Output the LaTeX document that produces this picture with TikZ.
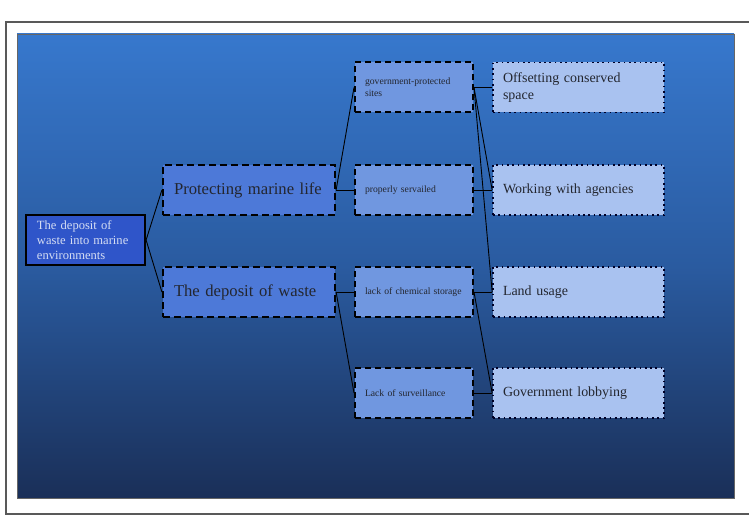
\documentclass[tikz,border=0pt]{standalone}
\usepackage{fontspec}
\setmainfont{Liberation Serif}
\definecolor{paneltop}{HTML}{3778CD}
\definecolor{panelmid}{HTML}{2A5BA0}
\definecolor{panelbot}{HTML}{1A2F58}
\definecolor{rootfill}{HTML}{2F55C9}
\definecolor{lvtwo}{HTML}{4D79D8}
\definecolor{lvthree}{HTML}{7097E0}
\definecolor{lvfour}{HTML}{A9C2F0}
\definecolor{darktext}{HTML}{23262F}
\definecolor{roottext}{HTML}{D5DDF3}
\begin{document}
\begin{tikzpicture}[x=1bp,y=-1bp,
  box/.style={rectangle,anchor=center,minimum height=50bp,inner ysep=0bp,align=left},
  rootbox/.style={box,draw=black,line width=2.2bp,fill=rootfill,text=roottext,
     minimum width=119bp,inner xsep=11bp,text width=97bp,font=\fontsize{12.6}{15}\selectfont},
  lvtwobox/.style={box,draw=black,line width=2.2bp,dash pattern=on 7bp off 4bp,fill=lvtwo,text=darktext,
     minimum width=172bp,inner xsep=8bp,text width=156bp,font=\fontsize{16.7}{20}\selectfont},
  lvthreebox/.style={box,draw=black,line width=2bp,dash pattern=on 6bp off 4bp,fill=lvthree,text=darktext,
     minimum width=118bp,inner xsep=10bp,text width=98bp,font=\fontsize{9.7}{12}\selectfont},
  lvfourbox/.style={box,draw=black!85!blue,line width=1.7bp,dash pattern=on 1.7bp off 3.6bp,fill=lvfour,text=darktext,
     minimum width=171bp,inner xsep=10bp,text width=151bp,font=\fontsize{14}{17}\selectfont},
  link/.style={draw=black,line width=0.9bp}]
\useasboundingbox (0,0) rectangle (749,528);
\fill[white] (0,0) rectangle (749,528);
% outer frame
\draw[gray!70!black,line width=1.4bp] (749,22) -- (6,22) -- (6,514) -- (749,514);
% gradient panel
\shade[top color=paneltop,bottom color=panelbot,middle color=panelmid] (17,34) rectangle (734,498);
\draw[black!60,line width=0.6bp] (17,34) rectangle (734,498);
% nodes
\node[rootbox] (root) at (85.5,240) {The deposit of\\waste into marine\\environments};
\node[lvtwobox] (prot) at (249,190) {\hspace*{3bp}Protecting marine life};
\node[lvtwobox] (depo) at (249,292) {\hspace*{3bp}The deposit of waste};
\node[lvthreebox] (gov) at (414,87.5) {government-protected\\sites};
\node[lvthreebox] (prop) at (414,190) {properly servailed};
\node[lvthreebox] (chem) at (414,292) {lack of chemical storage};
\node[lvthreebox] (surv) at (414,393) {Lack of surveillance};
\node[lvfourbox] (offs) at (578.5,87.5) {Offsetting conserved\\space};
\node[lvfourbox] (work) at (578.5,190) {Working with agencies};
\node[lvfourbox] (land) at (578.5,292) {Land usage};
\node[lvfourbox] (lobb) at (578.5,393) {Government lobbying};
% connectors
\draw[link] (root.east) -- (prot.west);
\draw[link] (root.east) -- (depo.west);
\draw[link] (prot.east) -- (gov.west);
\draw[link] (prot.east) -- (prop.west);
\draw[link] (depo.east) -- (chem.west);
\draw[link] (depo.east) -- (surv.west);
\draw[link] (gov.east) -- (offs.west);
\draw[link] (gov.east) -- (work.west);
\draw[link] (gov.east) -- (land.west);
\draw[link] (prop.east) -- (work.west);
\draw[link] (chem.east) -- (land.west);
\draw[link] (chem.east) -- (lobb.west);
\draw[link] (surv.east) -- (lobb.west);
\end{tikzpicture}
\end{document}
